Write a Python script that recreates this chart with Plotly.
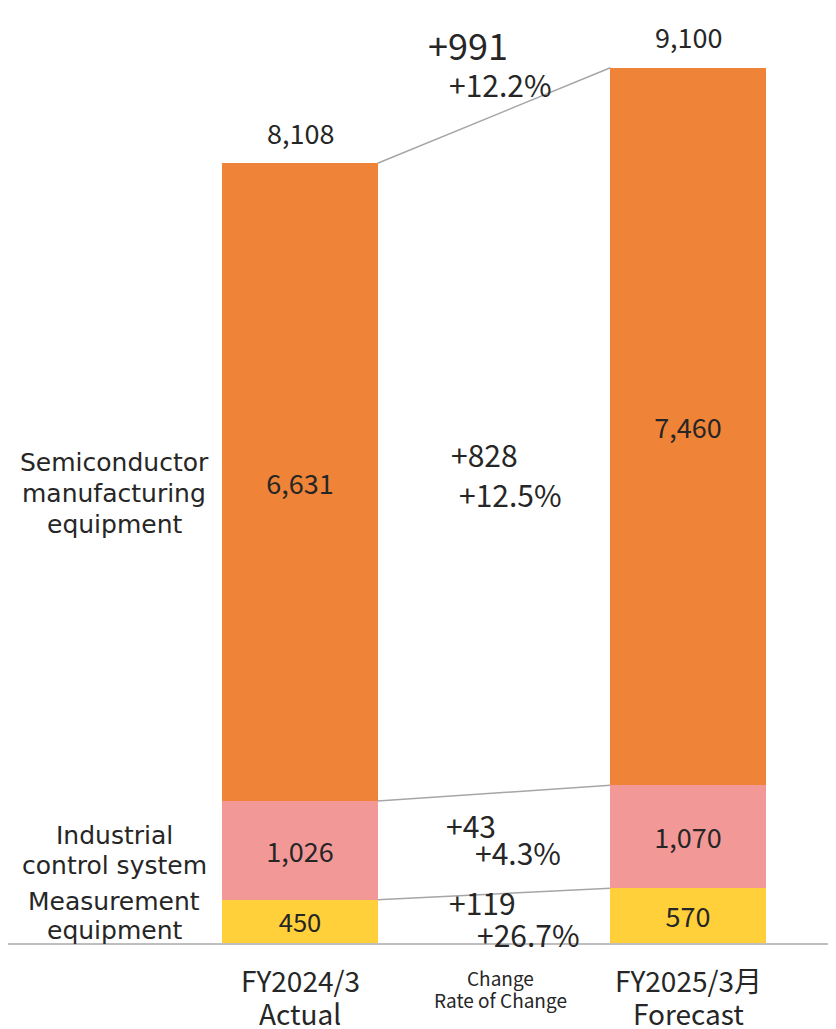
import plotly.graph_objects as go

period_lines = [["FY2024/3", "Actual"], ["FY2025/3月", "Forecast"]]
middle_lines = ["Change", "Rate of Change"]
segment_lines = [["Measurement", "equipment"], ["Industrial", "control system"],
                 ["Semiconductor", "manufacturing", "equipment"]]
actual = [450, 1026, 6631]
forecast = [570, 1070, 7460]
totals = [8108, 9100]
change_abs = ["+119", "+43", "+828"]
change_pct = ["+26.7%", "+4.3%", "+12.5%"]
total_change_abs = "+991"
total_change_pct = "+12.2%"
colors = ["#FFD03A", "#F29896", "#EF8438"]

FONT = "Noto Sans CJK JP"
FONT_SEG = "DejaVu Sans"
TXT = "#262626"
X_POS = [0, 2]
BW = 0.8

# page has an 8px body margin; work in reference pixel coords
OFF = 8
W, H = 836 - OFF, 1029 - OFF
BASE = 943  # baseline y in reference pixels
PX_PER_UNIT = 0.09618
CENTER0, UNIT = 300, 194

fig = go.Figure()
for i in range(len(segment_lines)):
    vals = [actual[i], forecast[i]]
    fig.add_trace(go.Bar(
        x=X_POS, y=vals, width=BW, marker=dict(color=colors[i], line=dict(width=0)),
        text=[f"{v:,}" for v in vals], textposition="inside", insidetextanchor="middle",
        textfont=dict(family=FONT, size=27, color=TXT), name=" ".join(segment_lines[i]),
        showlegend=False, hoverinfo="skip", textangle=0,
    ))
fig.update_layout(barmode="stack")

cum_a, cum_f = 0, 0
for i in range(len(segment_lines)):
    cum_a += actual[i]
    cum_f += forecast[i]
    fig.add_shape(type="line", x0=X_POS[0] + BW / 2, y0=cum_a, x1=X_POS[1] - BW / 2, y1=cum_f,
                  line=dict(color="#A6A6A6", width=1.5), layer="below")

ann = []


def label(text, xpx, ypx, size, family=FONT):
    ann.append(dict(x=0, y=0, xref="paper", yref="paper", xanchor="center", yanchor="middle",
                    xshift=xpx - OFF, yshift=BASE - ypx, text=text, showarrow=False,
                    font=dict(family=family, size=size, color=TXT)))


for xp, t in zip(X_POS, totals):
    ann.append(dict(x=xp, y=t, text=f"{t:,}", yanchor="middle", yshift=31, showarrow=False,
                    font=dict(family=FONT, size=27, color=TXT)))

abs_px = [(482, 902), (471, 825), (484, 454)]
pct_px = [(528, 934), (518, 852), (510, 494)]
for i in range(len(segment_lines)):
    label(change_abs[i], *abs_px[i], 30)
    label(change_pct[i], *pct_px[i], 30)
label(total_change_abs, 468, 44, 36)
label(total_change_pct, 500, 84, 30)

seg_px = [[901, 930], [835, 865], [462, 493, 524]]
for lines, ys in zip(segment_lines, seg_px):
    for t, y in zip(lines, ys):
        label(t, 114, y, 25, FONT_SEG)

for xp, lines in zip(X_POS, period_lines):
    cx = CENTER0 + xp * UNIT
    label(lines[0], cx, 980, 28)
    label(lines[1], cx, 1013, 28)
label(middle_lines[0], 500, 977, 19)
label(middle_lines[1], 500, 999, 19)

fig.update_layout(
    annotations=ann,
    width=W, height=H,
    margin=dict(l=0, r=0, t=0, b=H - (BASE - OFF)),
    plot_bgcolor="white", paper_bgcolor="white",
    xaxis=dict(range=[-(CENTER0 - OFF) / UNIT, (836 - CENTER0) / UNIT], showticklabels=False,
               showgrid=False, zeroline=False, showline=True, linecolor="#BFBFBF",
               linewidth=1.5, ticks=""),
    yaxis=dict(range=[0, (BASE - OFF) / PX_PER_UNIT], visible=False, showgrid=False,
               zeroline=False),
    bargap=0,
)

fig.write_html("out.html")
